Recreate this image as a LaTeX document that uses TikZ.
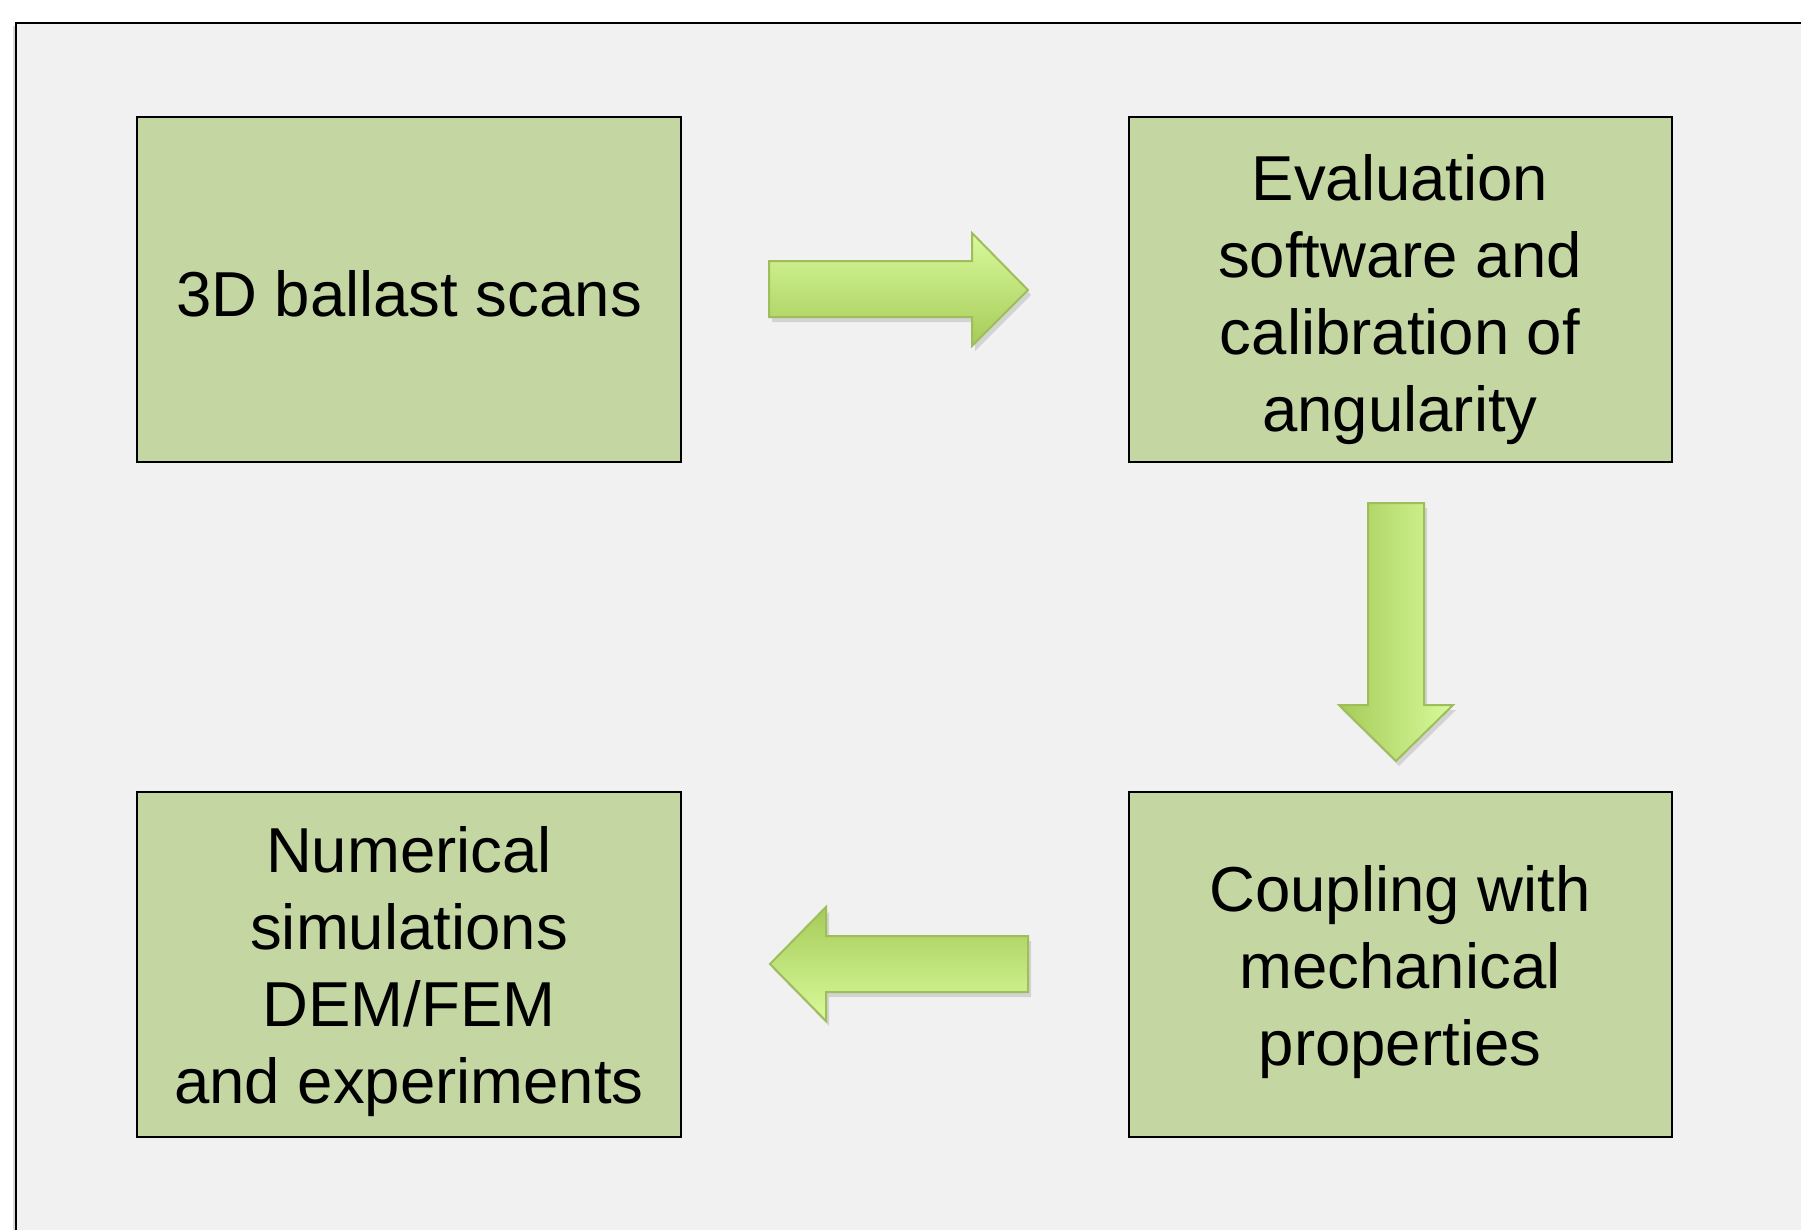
\documentclass[tikz,border=0pt]{standalone}
\usepackage{fontspec}
\setmainfont{Liberation Sans}
\begin{document}
\begin{tikzpicture}[x=1pt,y=-1pt,
  stagebox/.style={draw=black,line width=2pt,fill=boxgreen},
  stagetext/.style={align=center,text=black,inner sep=0pt,
    font=\fontsize{63.5}{77}\selectfont},
  blockarrow/.style={draw=arrowedge,line width=2pt,line join=miter},
  arrowshadow/.style={fill=black,opacity=0.12}]
\definecolor{boxgreen}{HTML}{C4D6A2}
\definecolor{arrowedge}{HTML}{9DBE5B}
\definecolor{arrowlight}{HTML}{D8FA9C}
\definecolor{arrowdark}{HTML}{A6CB58}
\definecolor{pagebg}{HTML}{F1F1F1}

% page extent
\useasboundingbox (0,0) rectangle (1801,1229);
\clip (0,0) rectangle (1801,1229);
\fill[white] (0,0) rectangle (1801,1229);

% outer frame running off the right and bottom edges
\fill[black,opacity=0.15] (13,26) rectangle (1840,1270);
\filldraw[fill=pagebg,draw=black,line width=2.5pt] (16,23) rectangle (1840,1270);

% the four stages
\draw[stagebox] (137,117) rectangle (681,462);
\draw[stagebox] (1129,117) rectangle (1672,462);
\draw[stagebox] (1129,792) rectangle (1672,1137);
\draw[stagebox] (137,792) rectangle (681,1137);

\node[stagetext] (scans) at (409,294) {3D ballast scans};
\node[stagetext] (evaluation) at (1400,300) {Evaluation\\software and\\calibration of\\angularity};
\node[stagetext] (coupling) at (1400,972) {Coupling with\\mechanical\\properties};
\node[stagetext] (numerics) at (409,972) {Numerical\\simulations\\DEM/FEM\\and experiments};

% arrow: scans -> evaluation
\fill[arrowshadow] (772,266) -- (975,266) -- (975,238) -- (1031,295) -- (975,351) -- (975,322) -- (772,322) -- cycle;
\shade[top color=arrowlight,bottom color=arrowdark]
  (769,261) -- (972,261) -- (972,233) -- (1028,290) -- (972,346) -- (972,317) -- (769,317) -- cycle;
\draw[blockarrow]
  (769,261) -- (972,261) -- (972,233) -- (1028,290) -- (972,346) -- (972,317) -- (769,317) -- cycle;

% arrow: evaluation -> coupling
\fill[arrowshadow] (1371,508) -- (1427,508) -- (1427,710) -- (1456,710) -- (1399,766) -- (1342,710) -- (1371,710) -- cycle;
\shade[left color=arrowdark,right color=arrowlight]
  (1368,503) -- (1424,503) -- (1424,705) -- (1453,705) -- (1396,761) -- (1339,705) -- (1368,705) -- cycle;
\draw[blockarrow]
  (1368,503) -- (1424,503) -- (1424,705) -- (1453,705) -- (1396,761) -- (1339,705) -- (1368,705) -- cycle;

% arrow: coupling -> numerics
\fill[arrowshadow] (773,969) -- (829,912) -- (829,941) -- (1031,941) -- (1031,997) -- (829,997) -- (829,1026) -- cycle;
\shade[top color=arrowdark,bottom color=arrowlight]
  (770,964) -- (826,907) -- (826,936) -- (1028,936) -- (1028,992) -- (826,992) -- (826,1021) -- cycle;
\draw[blockarrow]
  (770,964) -- (826,907) -- (826,936) -- (1028,936) -- (1028,992) -- (826,992) -- (826,1021) -- cycle;
\end{tikzpicture}
\end{document}
